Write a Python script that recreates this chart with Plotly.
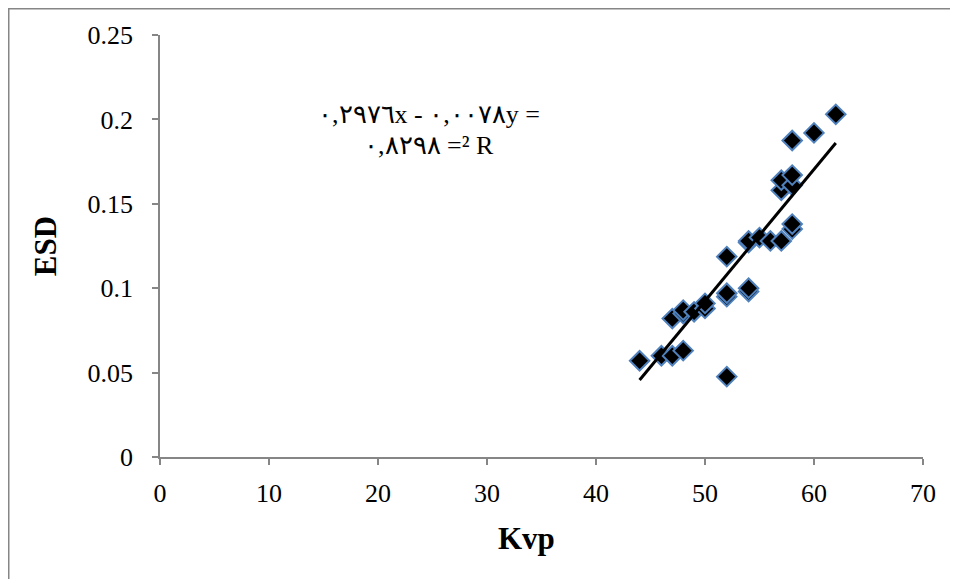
import plotly.graph_objects as go

kvp = [44, 46, 47, 48, 52, 47, 48, 48, 49, 50, 50, 52, 52, 54, 54, 52, 54, 54, 55, 56, 57, 58, 58, 57, 57, 58, 58, 58, 60, 62]
esd = [0.057, 0.060, 0.060, 0.063, 0.0476, 0.082, 0.085, 0.087, 0.086, 0.088, 0.091, 0.095, 0.097, 0.098, 0.100, 0.1187,
       0.127, 0.128, 0.130, 0.128, 0.128, 0.135, 0.138, 0.158, 0.164, 0.161, 0.167, 0.1875, 0.192, 0.203]

slope = 0.0078
intercept = -0.2976
trend_x = [min(kvp), max(kvp)]
trend_y = [slope * v + intercept for v in trend_x]

x_ticks = [0, 10, 20, 30, 40, 50, 60, 70]
y_ticks = [0, 0.05, 0.1, 0.15, 0.2, 0.25]
y_tick_text = ["0", "0.05", "0.1", "0.15", "0.2", "0.25"]

x_title = "Kvp"
y_title = "ESD"
eq_line1 = "٠,٢٩٧٦x - ٠,٠٠٧٨y ="
eq_line2 = "٠,٨٢٩٨ =² R"

font_family = "Liberation Serif, Times New Roman, serif"
axis_color = "#868686"

W, H = 950, 571
L, R, T, B = 152, 35, 27, 122
PW, PH = W - L - R, H - T - B


def px(x):
    return (x - L) / PW


def py(y):
    return (H - B - y) / PH


fig = go.Figure()
fig.add_trace(go.Scatter(
    x=kvp, y=esd, mode="markers",
    marker=dict(symbol="diamond", size=15, color="black",
                line=dict(color="#4F81BD", width=2)),
    showlegend=False, hoverinfo="x+y"))
fig.add_trace(go.Scatter(
    x=trend_x, y=trend_y, mode="lines",
    line=dict(color="black", width=3), showlegend=False))

fig.update_layout(
    width=W, height=H,
    margin=dict(l=L, r=R, t=T, b=B),
    paper_bgcolor="white", plot_bgcolor="white",
    font=dict(family=font_family, size=26, color="black"),
    xaxis=dict(range=[0, 70], tickvals=x_ticks, showgrid=False, zeroline=False,
               showline=True, linecolor=axis_color, linewidth=1.5,
               ticks="outside", ticklen=6, tickcolor=axis_color, tickwidth=1.5,
               ticklabelstandoff=6),
    yaxis=dict(range=[0, 0.25], tickvals=y_ticks, ticktext=y_tick_text, showgrid=False,
               zeroline=False, showline=True, linecolor=axis_color, linewidth=1.5,
               ticks="outside", ticklen=6, tickcolor=axis_color, tickwidth=1.5,
               ticklabelstandoff=14,
               title=dict(text="<b>" + y_title + "</b>", font=dict(size=31), standoff=22)),
    annotations=[
        dict(text="<b>" + x_title + "</b>", x=px(526 - 8), y=py(538 - 8), xref="paper", yref="paper",
             showarrow=False, font=dict(size=31), xanchor="center", yanchor="middle"),
        dict(text=eq_line1, x=px(429 - 8), y=py(115 - 8), xref="paper", yref="paper",
             showarrow=False, font=dict(size=26), xanchor="center", yanchor="middle"),
        dict(text=eq_line2, x=px(429 - 8), y=py(145 - 8), xref="paper", yref="paper",
             showarrow=False, font=dict(size=26), xanchor="center", yanchor="middle"),
    ],
    shapes=[
        dict(type="line", xref="paper", yref="paper",
             x0=px(0.75), x1=px(0.75), y0=py(0), y1=py(H),
             line=dict(color=axis_color, width=1.5)),
        dict(type="line", xref="paper", yref="paper",
             x0=px(0), x1=px(W), y0=py(0.75), y1=py(0.75),
             line=dict(color=axis_color, width=1.5)),
    ],
)

fig.write_html("out.html")
